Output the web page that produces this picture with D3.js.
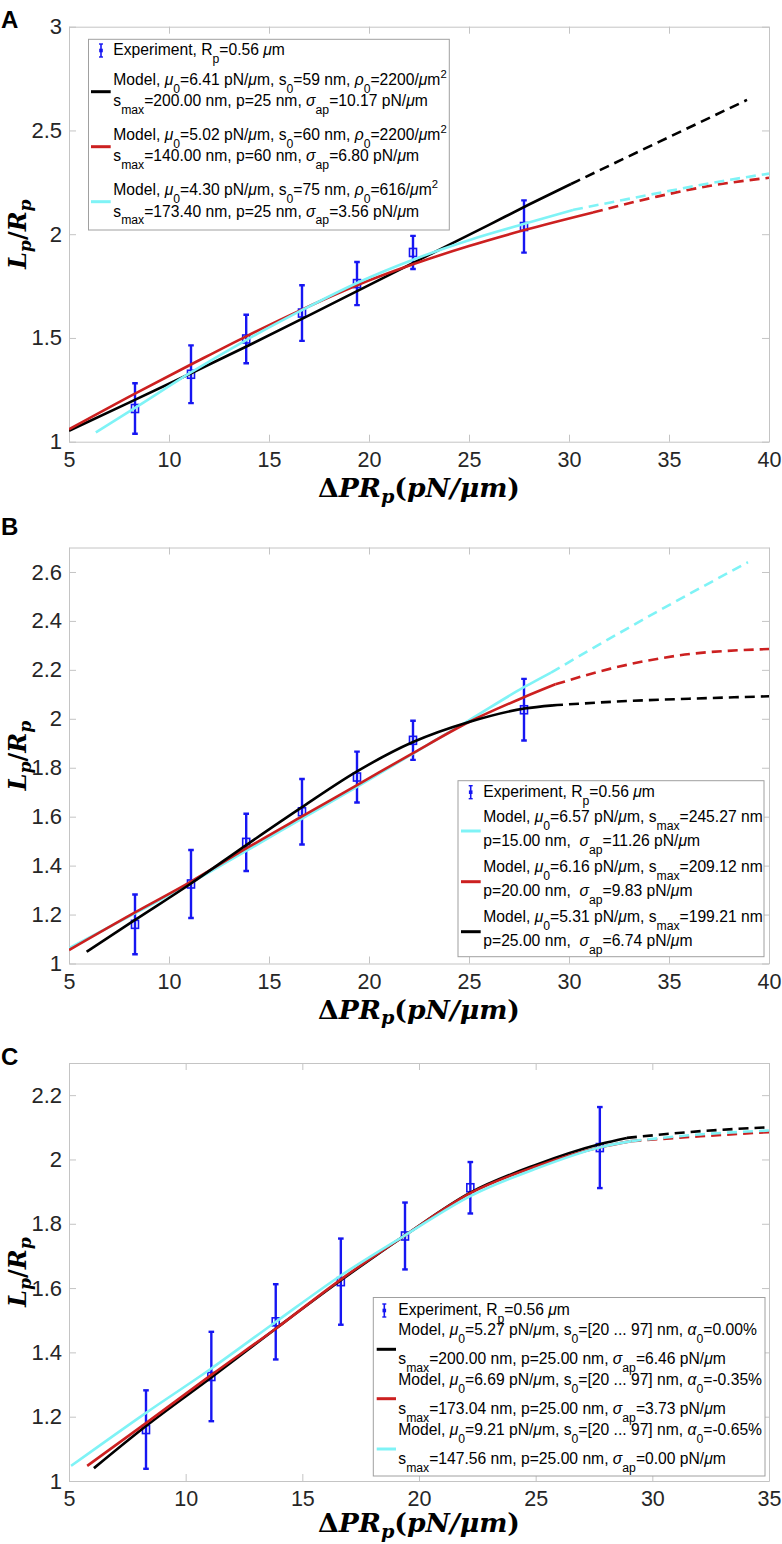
<!DOCTYPE html>
<html><head><meta charset="utf-8">
<script src="https://cdn.jsdelivr.net/npm/d3@7"></script>
<style>body{margin:0;background:#fff} svg{display:block} text{white-space:pre}</style>
</head><body><svg id="c" width="782" height="1544"></svg>
<script>
// ---------------- data ----------------
const expX   = [8.3, 11.1, 13.86, 16.65, 19.4, 22.2, 27.75];
const expY   = [1.16, 1.325, 1.495, 1.62, 1.762, 1.912, 2.037];
const expErr = [0.122, 0.139, 0.117, 0.134, 0.104, 0.08, 0.126];

const xTicksAB = [5, 10, 15, 20, 25, 30, 35, 40];
const xTicksC  = [5, 10, 15, 20, 25, 30, 35];
const yTicksA  = [1, 1.5, 2, 2.5, 3];
const yTicksB  = [1, 1.2, 1.4, 1.6, 1.8, 2, 2.2, 2.4, 2.6];
const yTicksC  = [1, 1.2, 1.4, 1.6, 1.8, 2, 2.2];

// Panel A model curves (solid up to break, dashed after)
const aBlackX = [5, 8, 11, 14, 17, 20, 23, 26, 28, 30.1, 34.5, 38.9];
const aBlackY = [1.053, 1.188, 1.325, 1.465, 1.609, 1.755, 1.9, 2.045, 2.143, 2.242, 2.445, 2.647];
const aRedX   = [5, 8.3, 11.1, 13.86, 16.67, 19.4, 22.2, 25, 27.77, 31.2, 34.4, 37, 40];
const aRedY   = [1.06, 1.232, 1.372, 1.508, 1.638, 1.754, 1.855, 1.943, 2.02, 2.105, 2.181, 2.232, 2.272];
const aCyanX  = [6.34, 8.3, 11.1, 13.86, 16.67, 19.4, 22.2, 25, 27.77, 30.2, 34.4, 37, 40];
const aCyanY  = [1.045, 1.163, 1.334, 1.49, 1.635, 1.765, 1.877, 1.971, 2.05, 2.117, 2.197, 2.245, 2.292];
const aBreaks = [30.1, 31.2, 30.2];

// Panel B
const bCyanX  = [5, 8.3, 11.1, 13.86, 16.67, 19.4, 22.2, 25, 27.77, 29.1, 34.37, 38.95];
const bCyanY  = [1.062, 1.205, 1.33, 1.46, 1.593, 1.722, 1.858, 1.994, 2.13, 2.189, 2.436, 2.64];
const bRedX   = [5, 8.3, 11.1, 13.86, 16.67, 19.4, 22.2, 25, 27.77, 29.32, 32.08, 35.5, 40];
const bRedY   = [1.055, 1.209, 1.335, 1.47, 1.602, 1.729, 1.86, 1.987, 2.089, 2.141, 2.205, 2.259, 2.285];
const bBlackX = [5.88, 8.3, 11.1, 13.86, 16.67, 19.4, 22.2, 25, 27.77, 29.2, 33, 36, 40];
const bBlackY = [1.048, 1.178, 1.327, 1.484, 1.64, 1.785, 1.905, 1.987, 2.042, 2.055, 2.073, 2.082, 2.092];
const bBreaks = [29.1, 29.32, 29.2];

// Panel C
const cBlackX = [6.07, 8.3, 11.1, 13.9, 16.67, 19.4, 22.2, 25, 27.77, 28.91, 32.07, 35];
const cBlackY = [1.04, 1.171, 1.322, 1.476, 1.625, 1.764, 1.897, 1.983, 2.048, 2.067, 2.088, 2.1];
const cRedX   = [5.78, 8.3, 11.1, 13.9, 16.67, 19.4, 22.2, 25, 27.77, 29.1, 32.07, 35];
const cRedY   = [1.047, 1.18, 1.33, 1.476, 1.628, 1.764, 1.895, 1.978, 2.038, 2.057, 2.072, 2.085];
const cCyanX  = [5.09, 8.3, 11.1, 13.9, 16.67, 19.4, 22.2, 25, 27.77, 29.1, 32.07, 35];
const cCyanY  = [1.047, 1.212, 1.35, 1.497, 1.64, 1.764, 1.886, 1.971, 2.038, 2.057, 2.078, 2.09];
const cBreaks = [28.91, 29.1, 29.1];

const expLabel = "Experiment, R_p=0.56 μm";
const legendA = [
  ["Model, μ_0=6.41 pN/μm, s_0=59 nm, ρ_0=2200/μm^2", "s_{max}=200.00 nm, p=25 nm, σ_{ap}=10.17 pN/μm"],
  ["Model, μ_0=5.02 pN/μm, s_0=60 nm, ρ_0=2200/μm^2", "s_{max}=140.00 nm, p=60 nm, σ_{ap}=6.80 pN/μm"],
  ["Model, μ_0=4.30 pN/μm, s_0=75 nm, ρ_0=616/μm^2", "s_{max}=173.40 nm, p=25 nm, σ_{ap}=3.56 pN/μm"]
];
const legendB = [
  ["Model, μ_0=6.57 pN/μm, s_{max}=245.27 nm", "p=15.00 nm,  σ_{ap}=11.26 pN/μm"],
  ["Model, μ_0=6.16 pN/μm, s_{max}=209.12 nm", "p=20.00 nm,  σ_{ap}=9.83 pN/μm"],
  ["Model, μ_0=5.31 pN/μm, s_{max}=199.21 nm", "p=25.00 nm,  σ_{ap}=6.74 pN/μm"]
];
const legendC = [
  ["Model, μ_0=5.27 pN/μm, s_0=[20 ... 97] nm, α_0=0.00%", "s_{max}=200.00 nm, p=25.00 nm, σ_{ap}=6.46 pN/μm"],
  ["Model, μ_0=6.69 pN/μm, s_0=[20 ... 97] nm, α_0=-0.35%", "s_{max}=173.04 nm, p=25.00 nm, σ_{ap}=3.73 pN/μm"],
  ["Model, μ_0=9.21 pN/μm, s_0=[20 ... 97] nm, α_0=-0.65%", "s_{max}=147.56 nm, p=25.00 nm, σ_{ap}=0.00 pN/μm"]
];

// ---------------- styles / layout ----------------
const BLACK = "#000000", RED = "#cc2020", CYAN = "#7ff3f6", BLUE = "#1616f2";
const AXIS = "#c4c4c4", TXT = "#262626";
const SANS = "'Liberation Sans', Arial, Helvetica, sans-serif";
const SERIF = "'DejaVu Serif', 'Liberation Serif', serif";
const L = 69, R = 769;

const panels = [
  { letter: "A", letterY: 28, top: 26.7, bottom: 441.7, xlabOff: 55, xDom: [5, 40], yDom: [1, 3], xT: xTicksAB, yT: yTicksA,
    curves: [[aBlackX, aBlackY, aBreaks[0], BLACK], [aRedX, aRedY, aBreaks[1], RED], [aCyanX, aCyanY, aBreaks[2], CYAN]],
    leg: { box: [88.5, 39.3, 449.3, 230], tx: 113.3, lx: [91, 110.7], ix: 101, expBase: 55,
      texts: legendA, colors: [BLACK, RED, CYAN], base1: [85, 140, 195], base2: [106, 161, 216.5], lineY: [91.7, 146.7, 201.7] } },
  { letter: "B", letterY: 535, top: 547.5, bottom: 963.5, xlabOff: 55, xDom: [5, 40], yDom: [1, 2.7], xT: xTicksAB, yT: yTicksB,
    curves: [[bCyanX, bCyanY, bBreaks[0], CYAN], [bRedX, bRedY, bBreaks[1], RED], [bBlackX, bBlackY, bBreaks[2], BLACK]],
    leg: { box: [458, 780.7, 764, 956.7], tx: 483.3, lx: [461, 480.7], ix: 470.7, expBase: 796.7,
      texts: legendB, colors: [CYAN, RED, BLACK], base1: [821.7, 871.7, 921.7], base2: [846, 896, 946], lineY: [831, 881.7, 931.7] } },
  { letter: "C", letterY: 1065, top: 1063, bottom: 1481, xlabOff: 51, xDom: [5, 35], yDom: [1, 2.3], xT: xTicksC, yT: yTicksC,
    curves: [[cBlackX, cBlackY, cBreaks[0], BLACK], [cRedX, cRedY, cBreaks[1], RED], [cCyanX, cCyanY, cBreaks[2], CYAN]],
    leg: { box: [373.3, 1297.5, 765, 1476], tx: 398.3, lx: [376.7, 396], ix: 384.3, expBase: 1315,
      texts: legendC, colors: [BLACK, RED, CYAN], base1: [1335, 1385, 1435], base2: [1364, 1414, 1464], lineY: [1349.3, 1398.7, 1449] } }
];

const svg = d3.select("#c");
const GREEK = /[μσραΔ]/;

function addRich(textSel, str, fs) {
  const segs = [];
  let i = 0;
  while (i < str.length) {
    const ch = str[i];
    if (ch === "_" || ch === "^") {
      let content;
      if (str[i + 1] === "{") { const j = str.indexOf("}", i); content = str.slice(i + 2, j); i = j + 1; }
      else { content = str[i + 1]; i += 2; }
      segs.push({ t: content, mode: ch === "_" ? "sub" : "sup" });
    } else {
      let j = i;
      while (j < str.length && str[j] !== "_" && str[j] !== "^") j++;
      segs.push({ t: str.slice(i, j), mode: "n" });
      i = j;
    }
  }
  let cur = 0;
  segs.forEach(s => {
    const target = s.mode === "sub" ? fs * 0.5 : s.mode === "sup" ? -fs * 0.42 : 0;
    const size = s.mode === "sub" ? fs * 0.78 : s.mode === "sup" ? fs * 0.72 : fs;
    const runs = [];
    for (const c of s.t) {
      const g = GREEK.test(c);
      if (runs.length && runs[runs.length - 1].g === g) runs[runs.length - 1].t += c;
      else runs.push({ t: c, g });
    }
    runs.forEach((r, k) => {
      const ts = textSel.append("tspan").text(r.t).attr("font-size", size);
      if (r.g) ts.attr("font-style", "italic");
      if (k === 0 && target !== cur) { ts.attr("dy", target - cur); }
    });
    cur = target;
  });
}

function measureRich(str, fs) {
  const t = svg.append("text").attr("font-family", SANS).attr("x", 0).attr("y", -100);
  addRich(t, str, fs);
  const w = t.node().getComputedTextLength();
  t.remove();
  return w;
}
const LFS = 15 * 171.7 / measureRich(expLabel, 15);

panels.forEach(p => {
  const x = d3.scaleLinear().domain(p.xDom).range([L, R]);
  const y = d3.scaleLinear().domain(p.yDom).range([p.bottom, p.top]);
  const g = svg.append("g");
  const clipId = "clip" + p.letter;
  svg.append("clipPath").attr("id", clipId).append("rect")
    .attr("x", L).attr("y", p.top).attr("width", R - L).attr("height", p.bottom - p.top);

  const styleAxis = a => {
    a.select(".domain").attr("stroke", AXIS).attr("stroke-width", 1);
    a.selectAll(".tick line").attr("stroke", AXIS).attr("stroke-width", 1);
    a.selectAll(".tick text").attr("fill", TXT).attr("font-family", SANS);
  };
  const ax = g.append("g").attr("transform", `translate(0,${p.bottom})`)
    .call(d3.axisBottom(x).tickValues(p.xT).tickSizeInner(-7).tickSizeOuter(0).tickPadding(10).tickFormat(d => String(d)));
  styleAxis(ax); ax.selectAll(".tick text").attr("font-size", 21.5);
  const axT = g.append("g").attr("transform", `translate(0,${p.top})`)
    .call(d3.axisTop(x).tickValues(p.xT).tickSizeInner(-7).tickSizeOuter(0).tickFormat(() => ""));
  styleAxis(axT);
  const ay = g.append("g").attr("transform", `translate(${L},0)`)
    .call(d3.axisLeft(y).tickValues(p.yT).tickSizeInner(-7).tickSizeOuter(0).tickPadding(7).tickFormat(d => String(d)));
  styleAxis(ay); ay.selectAll(".tick text").attr("font-size", 22);
  const ayR = g.append("g").attr("transform", `translate(${R},0)`)
    .call(d3.axisRight(y).tickValues(p.yT).tickSizeInner(-7).tickSizeOuter(0).tickFormat(() => ""));
  styleAxis(ayR);

  // experiment error bars
  const eg = g.append("g").attr("clip-path", `url(#${clipId})`);
  expX.forEach((xv, i) => {
    const cx = x(xv), y1 = y(expY[i] + expErr[i]), y0 = y(expY[i] - expErr[i]), cy = y(expY[i]);
    eg.append("line").attr("x1", cx).attr("x2", cx).attr("y1", y1).attr("y2", y0)
      .attr("stroke", BLUE).attr("stroke-width", 2.4);
    [y1, y0].forEach(yy => eg.append("line").attr("x1", cx - 2.8).attr("x2", cx + 2.8).attr("y1", yy).attr("y2", yy)
      .attr("stroke", BLUE).attr("stroke-width", 2.4));
    eg.append("rect").attr("x", cx - 3.5).attr("y", cy - 4).attr("width", 7).attr("height", 8)
      .attr("fill", "none").attr("stroke", BLUE).attr("stroke-width", 1.6);
  });

  // model curves
  const line = d3.line().x(d => x(d[0])).y(d => y(d[1])).curve(d3.curveMonotoneX);
  const cg = g.append("g").attr("clip-path", `url(#${clipId})`);
  p.curves.forEach(([xs, ys, brk, col]) => {
    const pts = xs.map((v, i) => [v, ys[i]]);
    const solid = pts.filter(d => d[0] <= brk + 1e-9);
    const dashed = pts.filter(d => d[0] >= brk - 1e-9);
    cg.append("path").attr("d", line(solid)).attr("fill", "none").attr("stroke", col).attr("stroke-width", 2.6);
    cg.append("path").attr("d", line(dashed)).attr("fill", "none").attr("stroke", col).attr("stroke-width", 2.6)
      .attr("stroke-dasharray", "10,6");
  });

  // legend
  const lg = p.leg;
  g.append("rect").attr("x", lg.box[0]).attr("y", lg.box[1]).attr("width", lg.box[2] - lg.box[0])
    .attr("height", lg.box[3] - lg.box[1]).attr("fill", "#fff").attr("stroke", "#a0a0a0").attr("stroke-width", 1);
  const icy = lg.expBase - 4.5;
  g.append("line").attr("x1", lg.ix).attr("x2", lg.ix).attr("y1", icy - 6.5).attr("y2", icy + 6.5).attr("stroke", BLUE).attr("stroke-width", 1.6);
  [icy - 6.5, icy + 6.5].forEach(yy => g.append("line").attr("x1", lg.ix - 2).attr("x2", lg.ix + 2).attr("y1", yy).attr("y2", yy).attr("stroke", BLUE).attr("stroke-width", 1.4));
  g.append("rect").attr("x", lg.ix - 1.8).attr("y", icy - 1.8).attr("width", 3.6).attr("height", 3.6).attr("fill", BLUE);
  const et = g.append("text").attr("x", lg.tx).attr("y", lg.expBase).attr("font-family", SANS).attr("fill", "#000");
  addRich(et, expLabel, LFS);
  lg.texts.forEach((pair, k) => {
    g.append("line").attr("x1", lg.lx[0]).attr("x2", lg.lx[1]).attr("y1", lg.lineY[k]).attr("y2", lg.lineY[k])
      .attr("stroke", lg.colors[k]).attr("stroke-width", 3);
    const t1 = g.append("text").attr("x", lg.tx).attr("y", lg.base1[k]).attr("font-family", SANS).attr("fill", "#000");
    addRich(t1, pair[0], LFS);
    const t2 = g.append("text").attr("x", lg.tx).attr("y", lg.base2[k]).attr("font-family", SANS).attr("fill", "#000");
    addRich(t2, pair[1], LFS);
  });

  // panel letter
  svg.append("text").attr("x", 1).attr("y", p.letterY).attr("font-family", SANS).attr("font-weight", "bold")
    .attr("font-size", 24).attr("fill", "#000").text(p.letter);

  // x label
  const xl = svg.append("text").attr("font-family", SERIF).attr("font-weight", "bold").attr("fill", "#000")
    .attr("text-anchor", "middle").attr("x", (L + R) / 2).attr("y", p.bottom + p.xlabOff);
  const buildX = (fs) => {
    xl.selectAll("*").remove();
    xl.append("tspan").text("Δ").attr("font-size", fs);
    xl.append("tspan").text("PR").attr("font-style", "italic").attr("font-size", fs);
    xl.append("tspan").text("p").attr("font-style", "italic").attr("font-size", fs * 0.72).attr("dy", fs * 0.22);
    xl.append("tspan").text("(").attr("font-size", fs).attr("dy", -fs * 0.22);
    xl.append("tspan").text("pN/μm").attr("font-style", "italic").attr("font-size", fs);
    xl.append("tspan").text(")").attr("font-size", fs);
  };
  buildX(24);
  const wx = xl.node().getComputedTextLength();
  buildX(24 * 202 / wx);

  // y label
  const cyl = (p.top + p.bottom) / 2;
  const yl = svg.append("text").attr("font-family", SERIF).attr("font-weight", "bold").attr("fill", "#000")
    .attr("text-anchor", "middle").attr("transform", `translate(26,${cyl}) rotate(-90)`);
  const buildY = (fs) => {
    yl.selectAll("*").remove();
    yl.append("tspan").text("L").attr("font-style", "italic").attr("font-size", fs);
    yl.append("tspan").text("p").attr("font-style", "italic").attr("font-size", fs * 0.72).attr("dy", fs * 0.2);
    yl.append("tspan").text("/").attr("font-size", fs).attr("dy", -fs * 0.2);
    yl.append("tspan").text("R").attr("font-style", "italic").attr("font-size", fs);
    yl.append("tspan").text("p").attr("font-style", "italic").attr("font-size", fs * 0.72).attr("dy", fs * 0.2);
  };
  buildY(24);
  const wy = yl.node().getComputedTextLength();
  buildY(Math.min(24 * 76 / wy, 24));
});
</script>
</body></html>
